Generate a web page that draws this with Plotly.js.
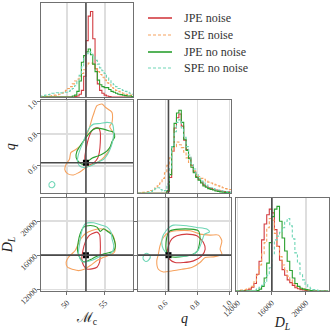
<!DOCTYPE html>
<html><head><meta charset="utf-8">
<script src="https://cdn.plot.ly/plotly-3.0.1.min.js"></script>
<style>html,body{margin:0;padding:0;background:#fff}#p{width:332px;height:332px}</style>
</head><body><div id="p"></div>
<script>
// ---------- data ----------
const seriesNames = ['JPE noise', 'SPE noise', 'JPE no noise', 'SPE no noise'];
const truthMc = 52.5, truthQ = 0.62, truthDL = 16000;

const mcTicks = [50, 55], mcTickText = ['50', '55'];
const qTicks = [0.6, 0.8, 1.0], qTickText = ['0.6', '0.8', '1.0'];
const dlTicks = [12000, 16000, 20000], dlTickText = ['12000', '16000', '20000'];

// histogram bins (start, width) and normalised heights
const mcBinStart = 46.5, mcBinWidth = 0.3;
const mcHist_jpeNoise = [0,0,0,0,0,0,0,0,0,0,0,0,0,0,0,0.005,0.01,0.03,0.07,0.22,0.6,0.86,0.91,0.62,0.3,0.14,0.07,0.04,0.02,0.01,0.005,0,0,0,0,0,0,0,0,0,0];
const mcHist_speNoise = [0,0.005,0.005,0.01,0.01,0.015,0.02,0.025,0.03,0.04,0.05,0.07,0.09,0.11,0.14,0.17,0.19,0.22,0.25,0.29,0.33,0.36,0.36,0.34,0.3,0.27,0.24,0.21,0.18,0.15,0.13,0.1,0.09,0.07,0.06,0.05,0.04,0.03,0.025,0.02,0.015];
const mcHist_jpeNoNoise = [0,0,0,0,0,0,0,0,0,0,0,0,0,0,0.01,0.02,0.06,0.17,0.37,0.44,0.48,0.51,0.45,0.35,0.27,0.18,0.13,0.11,0.1,0.1,0.08,0.06,0.05,0.04,0.03,0.025,0.02,0.015,0.01,0.01,0.005];
const mcHist_speNoNoise = [0.01,0.015,0.02,0.025,0.03,0.04,0.04,0.045,0.04,0.045,0.05,0.05,0.06,0.07,0.09,0.12,0.17,0.23,0.32,0.41,0.46,0.48,0.47,0.44,0.39,0.35,0.31,0.28,0.25,0.21,0.18,0.15,0.13,0.11,0.09,0.08,0.07,0.06,0.05,0.04,0.03];

const qBinStart = 0.43, qBinWidth = 0.015;
const qHist_jpeNoise = [0,0,0,0,0,0,0,0,0,0,0,0,0.02,0.17,0.45,0.7,0.81,0.85,0.72,0.57,0.47,0.38,0.3,0.23,0.18,0.15,0.12,0.09,0.075,0.06,0.05,0.04,0.035,0.03,0.025,0.02,0.02,0.015,0.01];
const qHist_speNoise = [0,0.005,0.01,0.015,0.02,0.03,0.04,0.06,0.08,0.11,0.16,0.22,0.3,0.38,0.45,0.5,0.55,0.52,0.49,0.44,0.38,0.33,0.28,0.24,0.2,0.18,0.16,0.15,0.13,0.12,0.11,0.1,0.09,0.08,0.07,0.06,0.05,0.045,0.04];
const qHist_jpeNoNoise = [0,0,0,0,0,0,0,0,0,0,0,0,0.03,0.2,0.5,0.75,0.86,0.89,0.76,0.58,0.46,0.37,0.28,0.22,0.17,0.14,0.11,0.08,0.065,0.05,0.04,0.035,0.025,0.02,0.015,0.012,0.01,0.008,0.005];
const qHist_speNoNoise = [0,0,0,0.005,0.01,0.02,0.03,0.05,0.06,0.04,0.025,0.03,0.1,0.27,0.5,0.66,0.76,0.79,0.7,0.6,0.5,0.41,0.32,0.26,0.2,0.16,0.13,0.11,0.09,0.07,0.06,0.05,0.04,0.035,0.03,0.025,0.02,0.015,0.01];

const dlBinStart = 11800, dlBinWidth = 300;
const dlHist_jpeNoise = [0,0,0.005,0.005,0.01,0.02,0.04,0.08,0.18,0.32,0.55,0.72,0.82,0.88,0.84,0.66,0.48,0.33,0.23,0.17,0.12,0.09,0.06,0.035,0.025,0.015,0.01,0.005,0,0,0,0,0,0,0,0];
const dlHist_speNoise = [0.005,0.01,0.01,0.015,0.02,0.03,0.05,0.1,0.17,0.28,0.4,0.52,0.68,0.78,0.76,0.62,0.48,0.37,0.28,0.22,0.16,0.12,0.08,0.05,0.04,0.03,0.02,0.015,0.01,0.005,0,0,0,0,0,0];
const dlHist_jpeNoNoise = [0,0,0,0,0,0,0,0,0.005,0.02,0.05,0.14,0.3,0.52,0.8,0.88,0.91,0.75,0.57,0.43,0.32,0.22,0.14,0.08,0.05,0.03,0.02,0.015,0.01,0.005,0,0,0,0,0,0];
const dlHist_speNoNoise = [0,0,0,0,0,0,0,0.01,0.02,0.04,0.06,0.09,0.17,0.25,0.4,0.55,0.59,0.63,0.68,0.75,0.78,0.7,0.56,0.41,0.3,0.18,0.12,0.07,0.04,0.025,0.015,0.01,0.005,0,0,0];

// 2D credible contours: [x, y] in data units
const mcq_jpeNoise = [[53.73,0.835],[54.22,0.833],[54.39,0.808],[54.39,0.746],[54.26,0.683],[54.04,0.648],[53.51,0.619],[52.85,0.606],[52.41,0.619],[52.36,0.656],[52.54,0.71],[52.85,0.773],[53.29,0.819]];
const mcq_speNoise = [[53.51,0.923],[53.95,0.975],[54.61,0.985],[55.05,0.965],[55.94,0.933],[55.94,0.871],[55.63,0.844],[56.07,0.808],[56.16,0.777],[55.85,0.735],[55.36,0.683],[54.61,0.642],[53.73,0.615],[52.85,0.6],[52.19,0.579],[51.52,0.558],[50.86,0.544],[50.07,0.552],[49.71,0.579],[49.89,0.61],[50.33,0.642],[50.51,0.683],[51.21,0.704],[51.96,0.735],[52.54,0.787],[52.98,0.84],[53.29,0.892]];
const mcq_jpeNoNoise = [[53.95,0.835],[54.83,0.829],[55.5,0.819],[56.16,0.808],[56.29,0.781],[55.94,0.752],[55.72,0.721],[55.28,0.694],[54.61,0.673],[53.95,0.66],[53.29,0.648],[52.72,0.627],[52.19,0.61],[51.66,0.621],[51.21,0.652],[51.3,0.69],[51.66,0.719],[52.19,0.756],[52.85,0.798],[53.42,0.825]];
const mcq_speNoNoise = [[53.51,0.86],[54.39,0.864],[55.28,0.871],[55.94,0.864],[56.16,0.819],[56.07,0.767],[55.85,0.725],[55.36,0.673],[54.83,0.642],[53.95,0.621],[53.07,0.6],[52.19,0.59],[51.66,0.6],[51.39,0.631],[51.52,0.673],[51.83,0.715],[52.19,0.756],[52.63,0.808],[53.07,0.844]];
const mcq_speNoNoiseIsland = [[48.0,0.503],[48.35,0.493],[48.4,0.48],[48.1,0.465],[47.7,0.47],[47.65,0.49]];

const mcdl_jpeNoise = [[53.29,18505],[53.95,18701],[54.3,18387],[54.39,17525],[54.39,16349],[54.3,15173],[53.95,14585],[53.29,14389],[52.63,14389],[52.19,14781],[51.96,15565],[52.1,16545],[52.41,17525],[52.85,18231]];
const mcdl_speNoise = [[54.39,19093],[55.28,18897],[55.94,18505],[56.29,17721],[56.38,16937],[56.25,16349],[55.72,16035],[54.83,15761],[53.95,15369],[53.07,14781],[52.19,14311],[51.52,14193],[50.86,14311],[50.07,14585],[49.89,15173],[50.2,15761],[50.64,16153],[51.08,16545],[51.39,17133],[51.83,17917],[52.41,18505],[53.29,18897]];
const mcdl_jpeNoNoise = [[52.19,19289],[53.07,19485],[53.95,19289],[54.39,18779],[54.83,19093],[55.36,18779],[55.94,18387],[56.25,17721],[56.38,17055],[56.16,16506],[55.5,16271],[54.75,16114],[53.95,15879],[53.29,15565],[52.63,15291],[52.1,15251],[51.66,15761],[51.39,16545],[51.48,17525],[51.74,18505]];
const mcdl_speNoNoise = [[52.41,19681],[53.51,19799],[54.39,19563],[55.28,19289],[55.81,18701],[55.94,17917],[56.16,17133],[56.07,16545],[55.72,16153],[55.05,15957],[54.39,15879],[53.73,15565],[52.85,15291],[52.19,15173],[51.74,15565],[51.52,16349],[51.66,17329],[51.83,18309],[52.05,19093]];

const qdl_jpeNoise = [[0.672,18270],[0.734,18466],[0.797,18270],[0.838,17486],[0.849,16702],[0.828,15918],[0.776,15330],[0.713,15134],[0.661,15134],[0.626,15526],[0.613,16310],[0.62,17094],[0.64,17878]];
const qdl_speNoise = [[0.62,18662],[0.672,18858],[0.755,18858],[0.817,18466],[0.88,18348],[0.932,18348],[0.953,17682],[0.942,16702],[0.953,16114],[0.901,15801],[0.849,15722],[0.817,15134],[0.765,14546],[0.703,14350],[0.64,14154],[0.588,14036],[0.557,14350],[0.547,15330],[0.557,16114],[0.567,17094],[0.588,18074]];
const qdl_jpeNoNoise = [[0.63,18858],[0.692,19054],[0.755,19054],[0.807,18858],[0.817,18074],[0.813,17290],[0.801,16506],[0.765,16036],[0.713,15840],[0.661,15761],[0.62,15918],[0.605,16702],[0.605,17486],[0.613,18348]];
const qdl_speNoNoise = [[0.651,19524],[0.734,19446],[0.797,19250],[0.859,19054],[0.876,18740],[0.845,18466],[0.834,17956],[0.822,17290],[0.807,16624],[0.776,16114],[0.734,15918],[0.672,15918],[0.62,16075],[0.588,16702],[0.578,17486],[0.584,18192],[0.605,18858],[0.63,19328]];
const qdl_speNoNoiseIsland = [[0.484,16220],[0.506,15950],[0.5,15500],[0.48,15250],[0.462,15550],[0.466,15980]];

// ---------- styling ----------
const colors = ['#d23c41', '#f6a25e', '#2aa02f', '#6fd6b6'];
const dashes = ['solid', '3px,2px', 'solid', '3px,2px'];
const FONT = 'Liberation Serif';
const gridC = '#dedede', frameC = '#707070', truthC = '#4a4a4a';

function steps(start, width, h) {
  const xs = [start], ys = [0];
  for (let i = 0; i < h.length; i++) { xs.push(start + i * width); ys.push(h[i]); }
  xs.push(start + h.length * width); ys.push(0);
  return {xs, ys};
}
function closed(pts) {
  const p = pts.concat([pts[0]]);
  return {xs: p.map(d => d[0]), ys: p.map(d => d[1])};
}

const traces = [];
const hists = [
  {sets: [mcHist_jpeNoise, mcHist_speNoise, mcHist_jpeNoNoise, mcHist_speNoNoise], s: mcBinStart, w: mcBinWidth, xa: 'x', ya: 'y'},
  {sets: [qHist_jpeNoise, qHist_speNoise, qHist_jpeNoNoise, qHist_speNoNoise], s: qBinStart, w: qBinWidth, xa: 'x3', ya: 'y3'},
  {sets: [dlHist_jpeNoise, dlHist_speNoise, dlHist_jpeNoNoise, dlHist_speNoNoise], s: dlBinStart, w: dlBinWidth, xa: 'x6', ya: 'y6'}
];
hists.forEach(hh => {
  hh.sets.forEach((h, k) => {
    const st = steps(hh.s, hh.w, h);
    traces.push({type: 'scatter', mode: 'lines', x: st.xs, y: st.ys, xaxis: hh.xa, yaxis: hh.ya,
      line: {shape: 'hv', color: colors[k], width: 1.1, dash: dashes[k]},
      name: seriesNames[k], showlegend: false, hoverinfo: 'skip'});
  });
});

const conts = [
  {sets: [[mcq_jpeNoise], [mcq_speNoise], [mcq_jpeNoNoise], [mcq_speNoNoise, mcq_speNoNoiseIsland]], xa: 'x2', ya: 'y2'},
  {sets: [[mcdl_jpeNoise], [mcdl_speNoise], [mcdl_jpeNoNoise], [mcdl_speNoNoise]], xa: 'x4', ya: 'y4'},
  {sets: [[qdl_jpeNoise], [qdl_speNoise], [qdl_jpeNoNoise], [qdl_speNoNoise, qdl_speNoNoiseIsland]], xa: 'x5', ya: 'y5'}
];
conts.forEach(cc => {
  cc.sets.forEach((list, k) => {
    list.forEach(pts => {
      const c = closed(pts);
      traces.push({type: 'scatter', mode: 'lines', x: c.xs, y: c.ys, xaxis: cc.xa, yaxis: cc.ya,
        line: {shape: 'spline', smoothing: 0.7, color: colors[k], width: 1.1},
        name: seriesNames[k], showlegend: false, hoverinfo: 'skip'});
    });
  });
});

// truth markers
[['x2', 'y2', truthMc, truthQ], ['x4', 'y4', truthMc, truthDL], ['x5', 'y5', truthQ, truthDL]].forEach(t => {
  traces.push({type: 'scatter', mode: 'markers', x: [t[2]], y: [t[3]], xaxis: t[0], yaxis: t[1],
    marker: {symbol: 'square', size: 6, color: '#000'}, showlegend: false, hoverinfo: 'skip'});
});

// ---------- layout ----------
const W = 332;
const col = [[40.7 / W, 133 / W], [138 / W, 231 / W], [236 / W, 329 / W]];
const row = [[1 - 97 / W, 1 - 3 / W], [1 - 193.3 / W, 1 - 100 / W], [1 - 291 / W, 1 - 198 / W]];
const mcRange = [46.54, 58.7], qRange = [0.43, 1.01], dlRange = [11800, 22700];
const tickFont = {family: FONT, size: 8, color: '#333'};
const titleFont = {family: FONT, size: 14, color: '#222'};

function ax(domain, anchor, range, vals, text, labels, title, standoff) {
  const a = {domain, anchor, range, tickvals: vals, ticktext: text, showticklabels: labels,
    tickangle: -45, tickfont: tickFont, ticks: 'outside', ticklen: 3, tickcolor: frameC, tickwidth: 1,
    showgrid: true, gridcolor: gridC, gridwidth: 1.5, zeroline: false,
    showline: true, mirror: true, linecolor: frameC, linewidth: 1, fixedrange: true, automargin: false};
  if (title) a.title = {text: title, font: titleFont, standoff: standoff == null ? 2 : standoff};
  return a;
}
function histY(domain, anchor) {
  return {domain, anchor, range: [0, 1], showticklabels: false, ticks: '', showgrid: false, zeroline: false,
    showline: true, mirror: true, linecolor: frameC, linewidth: 1, fixedrange: true};
}

// legend (drawn as paper-space line samples + text)
const legendRowsPx = [18, 35, 52, 68];
const legendShapes = seriesNames.map((n, k) => ({type: 'line', xref: 'paper', yref: 'paper',
  x0: 148 / W, x1: 172 / W, y0: 1 - legendRowsPx[k] / W, y1: 1 - legendRowsPx[k] / W,
  line: {color: colors[k], width: k % 2 === 0 ? 1.6 : 1.1, dash: dashes[k]}}));
const legendTexts = seriesNames.map((n, k) => ({xref: 'paper', yref: 'paper', x: 182 / W, y: 1 - legendRowsPx[k] / W,
  xanchor: 'left', yanchor: 'middle', text: n, showarrow: false, font: {family: FONT, size: 12, color: '#333'}}));

const layout = {
  width: 332, height: 332, margin: {l: 0, r: 0, t: 0, b: 0},
  paper_bgcolor: '#fff', plot_bgcolor: '#fff',
  font: {family: FONT},
  showlegend: false,
  xaxis: ax(col[0], 'y', mcRange, mcTicks, mcTickText, false),
  yaxis: histY(row[0], 'x'),
  xaxis2: ax(col[0], 'y2', mcRange, mcTicks, mcTickText, false),
  yaxis2: ax(row[1], 'x2', qRange, qTicks, qTickText, true, '<i>q</i>', 6),
  xaxis3: ax(col[1], 'y3', qRange, qTicks, qTickText, false),
  yaxis3: histY(row[1], 'x3'),
  xaxis4: ax(col[0], 'y4', mcRange, mcTicks, mcTickText, true, 'ℳ<sub>c</sub>'),
  yaxis4: ax(row[2], 'x4', dlRange, dlTicks, dlTickText, true, '<i>D</i><sub><i>L</i></sub>', 3),
  xaxis5: ax(col[1], 'y5', qRange, qTicks, qTickText, true, '<i>q</i>'),
  yaxis5: ax(row[2], 'x5', dlRange, dlTicks, dlTickText, false),
  xaxis6: ax(col[2], 'y6', dlRange, dlTicks, dlTickText, true, '<i>D</i><sub><i>L</i></sub>', 0),
  yaxis6: histY(row[2], 'x6'),
  shapes: legendShapes.slice(),
  annotations: legendTexts
};

const vlines = [['x', 'y', truthMc], ['x2', 'y2', truthMc], ['x4', 'y4', truthMc], ['x3', 'y3', truthQ], ['x5', 'y5', truthQ], ['x6', 'y6', truthDL]];
vlines.forEach(v => layout.shapes.push({type: 'line', xref: v[0], yref: v[1] + ' domain', x0: v[2], x1: v[2], y0: 0, y1: 1, line: {color: truthC, width: 1.6}, layer: 'above'}));
const hlines = [['x2', 'y2', truthQ], ['x4', 'y4', truthDL], ['x5', 'y5', truthDL]];
hlines.forEach(h => layout.shapes.push({type: 'line', xref: h[0] + ' domain', yref: h[1], x0: 0, x1: 1, y0: h[2], y1: h[2], line: {color: truthC, width: 1.6}, layer: 'above'}));

Plotly.newPlot('p', traces, layout, {displayModeBar: false, staticPlot: true});
</script>
</body></html>
